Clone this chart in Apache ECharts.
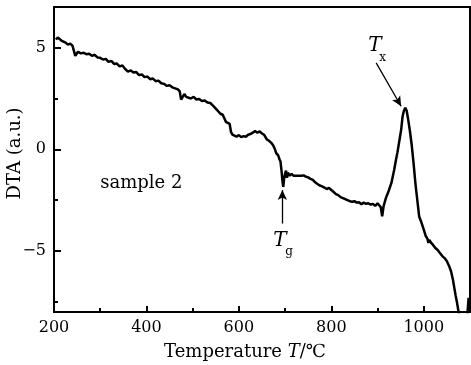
<!DOCTYPE html>
<html><head><meta charset="utf-8">
<script src="https://cdn.jsdelivr.net/npm/echarts@6/dist/echarts.min.js"></script>
<style>html,body{margin:0;padding:0;background:#fff}#c{width:471px;height:365px}</style>
</head><body><div id="c"></div>
<script>
const temperature = [204,208,212,216,220,225,230,235,240,243,246,249,252,258,264,270,276,282,288,294,300,306,312,318,324,330,336,342,348,354,360,366,372,378,384,390,396,402,408,414,420,426,432,438,444,450,456,462,468,472,475,478,482,486,490,496,502,508,514,520,526,532,538,544,548,552,556,560,565,568,572,576,580,583,586,590,595,600,605,610,615,620,625,630,635,640,645,650,655,660,665,670,674,678,681,685,688,690,692,694,696,698,700,702,704,706,710,714,718,722,726,730,735,740,745,750,755,760,765,770,775,780,785,790,795,800,805,810,815,820,825,830,835,840,845,850,855,860,865,870,875,880,885,890,895,900,904,907,910,913,918,924,930,936,940,943,947,951,954,957,960,963,966,970,974,978,982,986,990,995,1000,1004,1008,1010,1012,1016,1020,1025,1030,1035,1040,1045,1050,1055,1059,1063,1066,1069,1072,1076,1080,1088,1093,1097];
const dta = [5.4,5.5,5.45,5.35,5.3,5.25,5.15,5.2,5.1,5.15,4.6,4.55,4.8,4.72,4.75,4.68,4.7,4.6,4.65,4.52,4.5,4.42,4.45,4.3,4.35,4.2,4.22,4.08,4.12,3.95,3.82,3.88,3.78,3.8,3.65,3.68,3.55,3.58,3.45,3.48,3.35,3.38,3.25,3.22,3.12,3.15,3.05,3.0,2.95,2.85,2.45,2.5,2.72,2.58,2.62,2.5,2.58,2.45,2.48,2.38,2.4,2.3,2.28,2.15,2.05,1.95,1.9,1.75,1.7,1.55,1.35,1.3,1.25,0.85,0.72,0.68,0.62,0.7,0.6,0.65,0.62,0.72,0.75,0.82,0.9,0.82,0.88,0.78,0.7,0.5,0.42,0.32,0.2,0.0,-0.2,-0.3,-0.5,-0.6,-1.0,-1.5,-1.85,-1.4,-1.2,-1.05,-1.4,-1.15,-1.3,-1.2,-1.3,-1.22,-1.3,-1.25,-1.3,-1.28,-1.35,-1.38,-1.45,-1.5,-1.62,-1.7,-1.78,-1.82,-1.88,-1.95,-1.9,-2.0,-2.1,-2.2,-2.25,-2.35,-2.4,-2.45,-2.5,-2.55,-2.58,-2.55,-2.62,-2.6,-2.7,-2.62,-2.68,-2.65,-2.72,-2.68,-2.78,-2.65,-2.6,-2.85,-3.3,-2.8,-2.4,-2.05,-1.65,-1.0,-0.5,-0.15,0.4,0.95,1.6,1.9,2.05,1.9,1.5,0.9,0.2,-0.7,-1.7,-2.5,-3.3,-3.6,-3.95,-4.25,-4.4,-4.6,-4.45,-4.6,-4.7,-4.85,-4.95,-5.1,-5.25,-5.35,-5.5,-5.75,-6.0,-6.4,-6.8,-7.2,-7.55,-8.1,-9.0,-9.5,-8.5,-7.3];
const xTicks = [200,400,600,800,1000];
const yTicks = [-5,0,5];
const yMinorTicks = [-7.5,-2.5,2.5];
const sampleLabel = 'sample 2';
const txArrow = [[897,4.25],[951,2.12]];
const tgArrow = [[694,-3.65],[694,-2.0]];

const FONT = 'DejaVu Serif';
const chart = echarts.init(document.getElementById('c'), null, {renderer:'canvas'});
const pts = temperature.map((t,i)=>[t,dta[i]]);
chart.setOption({
  animation:false,
  backgroundColor:'#fff',
  grid:{left:54,right:1,top:7,bottom:53,containLabel:false,outerBoundsMode:'none',show:true,borderColor:'#000',borderWidth:2,backgroundColor:'transparent'},
  xAxis:{type:'value',min:200,max:1100,interval:200,
    axisLine:{show:true,onZero:false,lineStyle:{color:'#000',width:2}},
    axisTick:{show:true,inside:true,length:6,lineStyle:{color:'#000',width:2}},
    minorTick:{show:true,splitNumber:2,length:4,lineStyle:{color:'#000',width:2}},
    splitLine:{show:false},minorSplitLine:{show:false},
    axisLabel:{color:'#000',fontFamily:FONT,fontSize:16,margin:8,showMaxLabel:false,
      formatter:v=>xTicks.includes(v)?String(v):''},
    name:'Temperature {it|T}/℃',nameLocation:'middle',nameGap:31,
    nameTextStyle:{color:'#000',fontFamily:FONT,fontSize:18,padding:[0,34,0,0],
      rich:{it:{fontStyle:'italic',fontFamily:FONT,fontSize:18,color:'#000'}}}
  },
  yAxis:[{type:'value',min:-8,max:7,
    axisLine:{show:true,onZero:false,lineStyle:{color:'#000',width:2}},
    axisTick:{show:true,inside:true,length:7,customValues:yTicks,lineStyle:{color:'#000',width:2}},
    axisLabel:{color:'#000',fontFamily:FONT,fontSize:16,margin:8,customValues:yTicks,
      formatter:v=>String(v).replace('-','−')},
    splitLine:{show:false},
    name:'DTA (a.u.)',nameLocation:'middle',nameGap:30,nameRotate:90,nameMoveOverlap:false,
    nameTextStyle:{color:'#000',fontFamily:FONT,fontSize:18,padding:[0,0,0,12]}
  },{type:'value',min:-8,max:7,position:'left',
    axisLine:{show:false,onZero:false},
    axisTick:{show:true,inside:true,length:4,customValues:yMinorTicks,lineStyle:{color:'#000',width:2}},
    axisLabel:{show:false},splitLine:{show:false}
  }],
  series:[{type:'line',data:pts,showSymbol:false,symbol:'none',clip:true,
    lineStyle:{color:'#000',width:2.5},
    markLine:{silent:true,symbol:['none','arrow'],symbolSize:[7,10],
      lineStyle:{color:'#000',width:1.3,type:'solid'},label:{show:false},
      data:[[{coord:txArrow[0]},{coord:txArrow[1]}],[{coord:tgArrow[0]},{coord:tgArrow[1]}]]}
  }]
});
const px = p=>chart.convertToPixel({xAxisIndex:0,yAxisIndex:0},p);
const tx = px(txArrow[0]), tg = px(tgArrow[0]);
const s = px([300,-1.8]);
chart.setOption({graphic:[
  {type:'text',x:s[0],y:s[1]-12,style:{text:sampleLabel,font:'18px "DejaVu Serif"',fill:'#000'}},
  {type:'text',x:tx[0]-8,y:tx[1]-27,style:{text:'T',font:'italic 20px "DejaVu Serif"',fill:'#000'}},
  {type:'text',x:tx[0]+3,y:tx[1]-11,style:{text:'x',font:'12px "DejaVu Serif"',fill:'#000'}},
  {type:'text',x:tg[0]-9,y:tg[1]+7,style:{text:'T',font:'italic 20px "DejaVu Serif"',fill:'#000'}},
  {type:'text',x:tg[0]+3,y:tg[1]+22,style:{text:'g',font:'12px "DejaVu Serif"',fill:'#000'}}
]});
</script></body></html>
